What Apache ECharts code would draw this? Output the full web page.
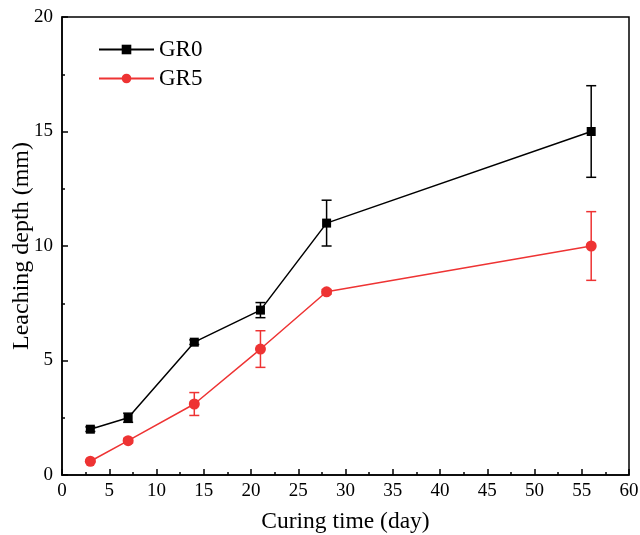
<!DOCTYPE html>
<html><head><meta charset="utf-8">
<script src="https://cdn.jsdelivr.net/npm/echarts@6/dist/echarts.min.js"></script>
<style>html,body{margin:0;padding:0;background:#fff}#c{width:640px;height:535px}</style>
</head><body><div id="c"></div>
<script>
const days = [3, 7, 14, 21, 28, 56];
const gr0 = [2.0, 2.5, 5.8, 7.2, 11.0, 15.0];
const gr0Err = [0.1, 0.2, 0.1, 0.33, 1.0, 2.0];
const gr5 = [0.6, 1.5, 3.1, 5.5, 8.0, 10.0];
const gr5Err = [0.05, 0.1, 0.5, 0.8, 0.1, 1.5];
const xTicks = [0, 5, 10, 15, 20, 25, 30, 35, 40, 45, 50, 55, 60];
const yTicks = [0, 5, 10, 15, 20];

const font = 'Liberation Serif, Times New Roman, serif';
function pts(ys){ return days.map((d,i)=>[d, ys[i]]); }
function errData(ys, es){ return days.map((d,i)=>[d, ys[i]-es[i], ys[i]+es[i]]); }
function errSeries(name, ys, es, color){
  return {
    type: 'custom', name: name + ' err', z: 1, silent: true,
    data: errData(ys, es),
    renderItem: function(params, api){
      const x = api.value(0);
      const lo = api.coord([x, api.value(1)]);
      const hi = api.coord([x, api.value(2)]);
      const hw = 5;
      const st = {stroke: color, lineWidth: 1.5};
      return {type: 'group', children: [
        {type: 'line', shape: {x1: lo[0], y1: lo[1], x2: hi[0], y2: hi[1]}, style: st},
        {type: 'line', shape: {x1: lo[0]-hw, y1: lo[1], x2: lo[0]+hw, y2: lo[1]}, style: st},
        {type: 'line', shape: {x1: hi[0]-hw, y1: hi[1], x2: hi[0]+hw, y2: hi[1]}, style: st}
      ]};
    }
  };
}
const chart = echarts.init(document.getElementById('c'));
chart.setOption({
  animation: false,
  backgroundColor: '#fff',
  grid: {left: 62, right: 11, top: 17, bottom: 60, containLabel: false, outerBoundsMode: 'none',
         show: true, borderColor: '#000', borderWidth: 1.5, backgroundColor: 'transparent'},
  legend: {
    orient: 'vertical', left: 98, top: 38, padding: 0, itemWidth: 55, itemHeight: 12, itemGap: 6,
    data: ['GR0', 'GR5'],
    textStyle: {fontFamily: font, fontSize: 23, color: '#000', padding: [0,0,0,0]}
  },
  xAxis: {
    type: 'value', min: xTicks[0], max: xTicks[xTicks.length-1], interval: 5,
    name: 'Curing time (day)', nameLocation: 'middle', nameGap: 35, nameMoveOverlap: false,
    nameTextStyle: {fontFamily: font, fontSize: 23.5, color: '#000'},
    axisLine: {show: true, lineStyle: {color: '#000', width: 1.5}},
    axisTick: {show: true, inside: true, length: 6, lineStyle: {color: '#000', width: 1.5}},
    minorTick: {show: true, splitNumber: 2, length: 3, lineStyle: {color: '#000', width: 1.5}},
    splitLine: {show: false},
    axisLabel: {fontFamily: font, fontSize: 19, color: '#000', margin: 7}
  },
  yAxis: {
    type: 'value', min: yTicks[0], max: yTicks[yTicks.length-1], interval: 5,
    name: 'Leaching depth (mm)', nameLocation: 'middle', nameGap: 28, nameMoveOverlap: false,
    nameTextStyle: {fontFamily: font, fontSize: 24, color: '#000'},
    axisLine: {show: true, lineStyle: {color: '#000', width: 1.5}},
    axisTick: {show: true, inside: true, length: 6, lineStyle: {color: '#000', width: 1.5}},
    minorTick: {show: true, splitNumber: 2, length: 3, lineStyle: {color: '#000', width: 1.5}},
    splitLine: {show: false},
    axisLabel: {fontFamily: font, fontSize: 19, color: '#000', margin: 9}
  },
  series: [
    errSeries('GR0', gr0, gr0Err, '#000000'),
    errSeries('GR5', gr5, gr5Err, '#ee3333'),
    {name: 'GR0', type: 'line', data: pts(gr0), symbol: 'rect', symbolSize: 9, z: 3,
     itemStyle: {color: '#000000'}, lineStyle: {color: '#000000', width: 1.5}},
    {name: 'GR5', type: 'line', data: pts(gr5), symbol: 'circle', symbolSize: 11, z: 3,
     itemStyle: {color: '#ee3333'}, lineStyle: {color: '#ee3333', width: 1.5}}
  ]
});
</script></body></html>
